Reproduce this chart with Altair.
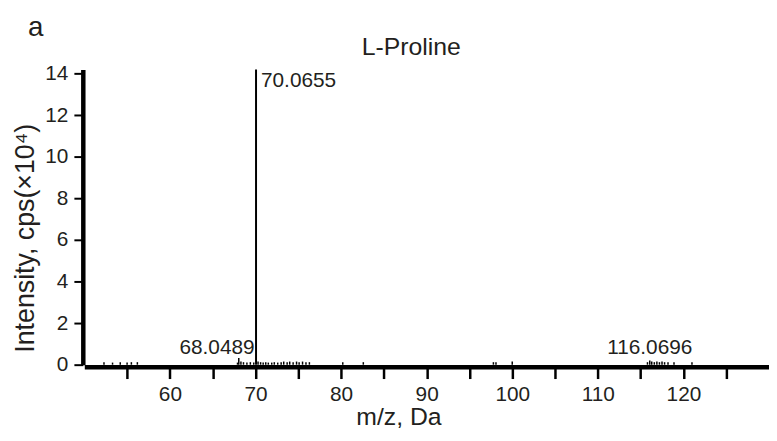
import altair as alt
import pandas as pd

# ---- data (m/z in Da, intensity in cps x 10^4) ----
peak_mz = [
    52.3, 53.3, 54.2, 55.0, 55.5, 56.2,
    67.9, 68.0489, 68.3, 68.6, 69.0, 69.4, 69.8, 70.0655, 70.3, 70.6, 70.9, 71.2, 71.5,
    71.9, 72.2, 72.6, 73.0, 73.3, 73.7, 74.0, 74.4, 74.8, 75.1, 75.5, 75.9, 76.3,
    80.2, 82.6, 97.8, 98.1, 100.0,
    115.8, 116.0696, 116.3, 116.6, 116.9, 117.2, 117.5, 117.8, 118.2, 118.9, 121.0,
]
peak_int = [
    0.12, 0.1, 0.12, 0.1, 0.12, 0.12,
    0.1, 0.32, 0.15, 0.12, 0.1, 0.12, 0.1, 14.2, 0.15, 0.12, 0.1, 0.12, 0.1,
    0.1, 0.12, 0.1, 0.12, 0.15, 0.12, 0.15, 0.12, 0.15, 0.12, 0.15, 0.12, 0.12,
    0.12, 0.12, 0.12, 0.12, 0.15,
    0.12, 0.2, 0.15, 0.12, 0.15, 0.12, 0.15, 0.12, 0.12, 0.12, 0.12,
]
ann_mz = [70.0655, 68.0489, 116.0696]
ann_int = [14.2, 0.32, 0.2]
ann_label = ["70.0655", "68.0489", "116.0696"]
x_ticks = [55, 60, 65, 70, 75, 80, 85, 90, 95, 100, 105, 110, 115, 120, 125]
y_ticks = [0, 2, 4, 6, 8, 10, 12, 14]
chart_title = ["L-Proline"]
panel_letter = ["a"]

FONT = "Liberation Sans, Arial, Helvetica, sans-serif"
TXT = "#231f20"

peaks = pd.DataFrame({"mz": peak_mz, "intensity": peak_int})
ann = pd.DataFrame({"mz": ann_mz, "intensity": ann_int, "label": ann_label})

xscale = alt.Scale(domain=[50, 130], nice=False, zero=False)
yscale = alt.Scale(domain=[0, 14.2], nice=False)

x_enc = alt.X(
    "mz:Q", scale=xscale,
    axis=alt.Axis(
        title="m/z, Da", values=x_ticks,
        labelExpr="datum.value % 10 == 0 ? datum.label : ''",
        domainWidth=4.5, domainColor="black", tickWidth=2.5, tickColor="black",
        tickSize=12, offset=2, labelFontSize=21, labelFont=FONT, labelColor=TXT,
        labelBaseline="alphabetic", labelPadding=22, labelFlush=False,
        titleFont=FONT, titleFontSize=25, titleFontWeight="normal", titleColor=TXT,
        titleX=317, titleY=58, titleAlign="center", titleBaseline="alphabetic",
        grid=False,
    ),
)
y_enc = alt.Y(
    "intensity:Q", scale=yscale,
    axis=alt.Axis(
        title="Intensity, cps(×10⁴)", values=y_ticks,
        domainWidth=4.5, domainColor="black", tickWidth=2, tickColor="black",
        tickSize=9, offset=1.5, labelFontSize=21, labelFont=FONT, labelColor=TXT,
        labelPadding=6, labelFlush=False,
        titleFont=FONT, titleFontSize=27, titleFontWeight="normal", titleColor=TXT,
        titleX=-50, titleY=170, titleAngle=-90, titleAlign="center",
        titleBaseline="alphabetic", grid=False,
    ),
)

base = alt.Chart(peaks)

small = base.transform_filter("datum.intensity < 1").mark_rule(
    color="black", strokeWidth=1.5
).encode(x=x_enc, y=y_enc, y2=alt.datum(0))

big = base.transform_filter("datum.intensity >= 1").mark_rule(
    color="black", strokeWidth=2
).encode(x="mz:Q", y="intensity:Q", y2=alt.datum(0))

annb = alt.Chart(ann)
t1 = annb.transform_filter("datum.label == '70.0655'").mark_text(
    align="left", baseline="alphabetic", dx=5, dy=18, fontSize=21, font=FONT, color=TXT
).encode(x="mz:Q", y="intensity:Q", text="label:N")
t2 = annb.transform_filter("datum.label == '68.0489'").mark_text(
    align="right", baseline="alphabetic", dx=16, dy=-4, fontSize=21, font=FONT, color=TXT
).encode(x="mz:Q", y="intensity:Q", text="label:N")
t3 = annb.transform_filter("datum.label == '116.0696'").mark_text(
    align="center", baseline="alphabetic", dx=0, dy=-7, fontSize=21, font=FONT, color=TXT
).encode(x="mz:Q", y="intensity:Q", text="label:N")

title_txt = alt.Chart(pd.DataFrame({"t": chart_title})).mark_text(
    align="center", baseline="alphabetic", fontSize=25, font=FONT, color=TXT
).encode(x=alt.value(330), y=alt.value(-15), text="t:N")

letter_txt = alt.Chart(pd.DataFrame({"t": panel_letter})).mark_text(
    align="center", baseline="alphabetic", fontSize=28, font=FONT, color=TXT
).encode(x=alt.value(-49), y=alt.value(-34), text="t:N")

chart = alt.layer(small, big, t1, t2, t3, title_txt, letter_txt).properties(
    width=691, height=298,
    autosize=alt.AutoSizeParams(type="none"),
    padding={"left": 77, "top": 60, "right": 0, "bottom": 67},
    background="white",
).configure_view(stroke=None)

chart.save("out.html", embed_options={"renderer": "svg", "actions": False})
